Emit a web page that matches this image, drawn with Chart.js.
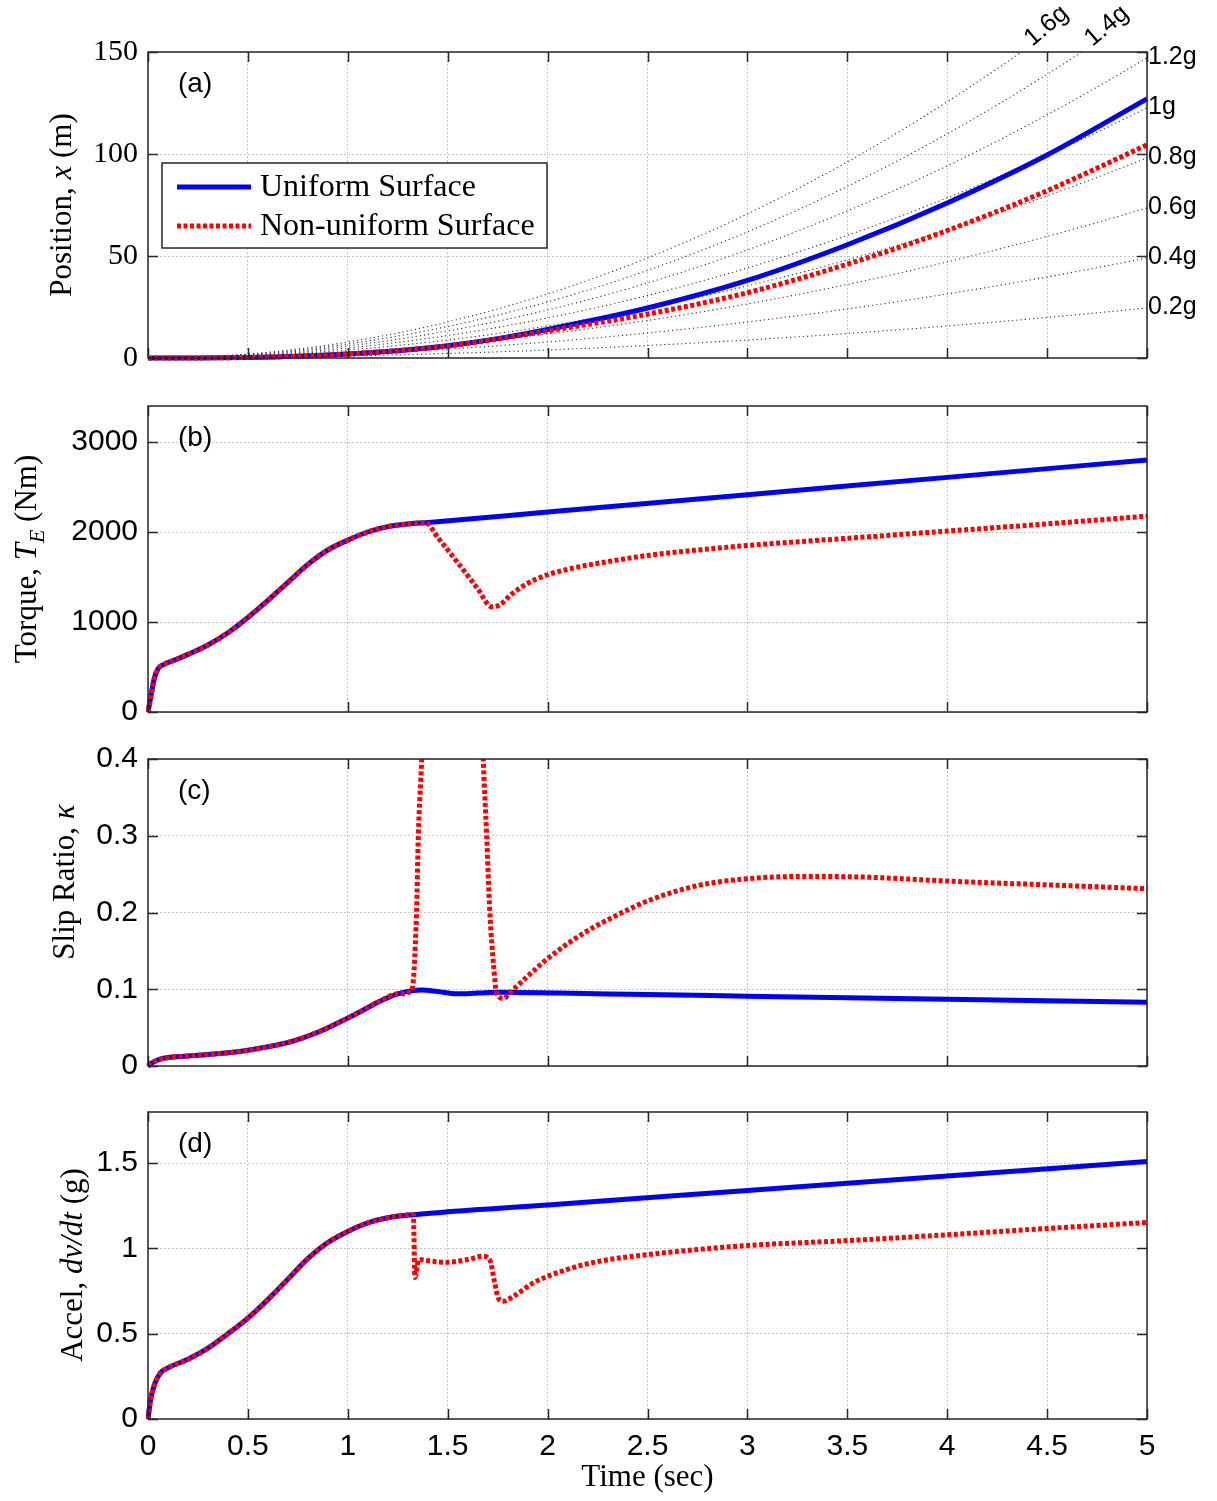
<!DOCTYPE html>
<html>
<head>
<meta charset="utf-8">
<script src="https://cdn.jsdelivr.net/npm/chart.js@4.4.1/dist/chart.umd.min.js"></script>
<style>
  body { margin: 0; background: #fff; }
  #wrap { position: relative; width: 1217px; height: 1501px; }
  #wrap canvas { position: absolute; left: 0; top: 0; }
</style>
</head>
<body>
<div id="wrap">
  <canvas id="posChart" width="1217" height="1501"></canvas>
  <canvas id="torqueChart" width="1217" height="1501"></canvas>
  <canvas id="slipChart" width="1217" height="1501"></canvas>
  <canvas id="accelChart" width="1217" height="1501"></canvas>
</div>
<script>
const SERIF = '"Liberation Serif", "Times New Roman", serif';
const SANS = '"Liberation Sans", Arial, sans-serif';
const G = 9.81;

// (a) position, m
const posTime = [0, 0.25, 0.5, 0.75, 1.0, 1.25, 1.5, 1.75, 2.0, 2.5, 3.0, 3.5, 4.0, 4.5, 5.0];
const posUniform = [0, 0.05, 0.3, 0.9, 2.0, 3.6, 6.0, 9.5, 14.0, 24.5, 38.0, 55.5, 76.0, 99.5, 127.0];
const posNonUniform = [0, 0.05, 0.3, 0.9, 2.0, 3.6, 5.9, 9.3, 13.3, 21.5, 32.0, 46.0, 62.5, 82.0, 104.5];
// constant-acceleration reference curves, in g
const gLevels = [0.2, 0.4, 0.6, 0.8, 1.0, 1.2, 1.4, 1.6];
const gLabels = ['0.2g', '0.4g', '0.6g', '0.8g', '1g', '1.2g', '1.4g', '1.6g'];

// (b) engine torque, Nm
const torqueTimeU = [0, 0.015, 0.03, 0.05, 0.08, 0.12, 0.2, 0.3, 0.4, 0.5, 0.6, 0.7, 0.8, 0.9, 1.0, 1.1, 1.2, 1.3, 1.39, 2, 3, 4, 5];
const torqueUniform = [0, 180, 360, 480, 530, 565, 640, 745, 880, 1050, 1240, 1440, 1640, 1800, 1910, 2000, 2060, 2090, 2104, 2222, 2415, 2607, 2800];
const torqueTimeN = [0, 0.015, 0.03, 0.05, 0.08, 0.12, 0.2, 0.3, 0.4, 0.5, 0.6, 0.7, 0.8, 0.9, 1.0, 1.1, 1.2, 1.3, 1.39, 1.45, 1.55, 1.65, 1.72, 1.76, 1.82, 1.9, 2.0, 2.15, 2.3, 2.5, 2.75, 3, 3.5, 4, 4.5, 5];
const torqueNonUniform = [0, 180, 360, 480, 530, 565, 640, 745, 880, 1050, 1240, 1440, 1640, 1800, 1910, 2000, 2060, 2090, 2104, 1940, 1660, 1370, 1170, 1190, 1310, 1430, 1525, 1610, 1670, 1740, 1800, 1850, 1930, 2010, 2090, 2175];

// (c) slip ratio
const slipTimeU = [0, 0.02, 0.05, 0.1, 0.2, 0.3, 0.46, 0.6, 0.72, 0.85, 0.95, 1.05, 1.15, 1.25, 1.32, 1.37, 1.45, 1.545, 1.65, 1.76, 2.06, 2.5, 3, 3.5, 4, 4.5, 5];
const slipUniform = [0, 0.004, 0.008, 0.011, 0.013, 0.015, 0.019, 0.025, 0.032, 0.044, 0.056, 0.069, 0.083, 0.094, 0.098, 0.099, 0.097, 0.094, 0.095, 0.096, 0.095, 0.093, 0.091, 0.089, 0.087, 0.085, 0.083];
const slipTimeN = [0, 0.02, 0.05, 0.1, 0.2, 0.3, 0.46, 0.6, 0.72, 0.85, 0.95, 1.05, 1.15, 1.25, 1.32, 1.344, 1.353, 1.37, 1.39, 1.66, 1.678, 1.695, 1.711, 1.73, 1.745, 1.78, 1.81, 1.9, 2.01, 2.18, 2.35, 2.51, 2.75, 3.0, 3.3, 3.6, 4.0, 4.5, 5.0];
const slipNonUniform = [0, 0.004, 0.008, 0.011, 0.013, 0.015, 0.019, 0.025, 0.032, 0.044, 0.056, 0.069, 0.083, 0.094, 0.098, 0.2, 0.3, 0.4, 0.55, 0.55, 0.4, 0.3, 0.2, 0.13, 0.095, 0.088, 0.095, 0.117, 0.142, 0.173, 0.197, 0.216, 0.235, 0.244, 0.247, 0.246, 0.241, 0.236, 0.231];

// (d) longitudinal acceleration, g
const accTimeU = [0, 0.013, 0.035, 0.062, 0.1, 0.2, 0.3, 0.4, 0.5, 0.6, 0.7, 0.8, 0.9, 1.0, 1.1, 1.2, 1.33, 2, 3, 4, 5];
const accUniform = [0, 0.114, 0.21, 0.27, 0.3, 0.35, 0.415, 0.5, 0.592, 0.7, 0.82, 0.94, 1.035, 1.1, 1.15, 1.18, 1.198, 1.255, 1.34, 1.425, 1.51];
const accTimeN = [0, 0.013, 0.035, 0.062, 0.1, 0.2, 0.3, 0.4, 0.5, 0.6, 0.7, 0.8, 0.9, 1.0, 1.1, 1.2, 1.328, 1.336, 1.345, 1.354, 1.42, 1.494, 1.6, 1.677, 1.71, 1.735, 1.753, 1.778, 1.83, 1.929, 2.095, 2.26, 2.5, 3, 3.5, 4, 4.5, 5];
const accNonUniform = [0, 0.114, 0.21, 0.27, 0.3, 0.35, 0.415, 0.5, 0.592, 0.7, 0.82, 0.94, 1.035, 1.1, 1.15, 1.18, 1.198, 0.83, 0.88, 0.935, 0.925, 0.919, 0.935, 0.954, 0.935, 0.8, 0.71, 0.69, 0.72, 0.798, 0.876, 0.925, 0.964, 1.017, 1.046, 1.08, 1.117, 1.152];

// axis ticks
const xTicksFine = [0, 0.5, 1, 1.5, 2, 2.5, 3, 3.5, 4, 4.5, 5];
const xTicksCoarse = [0, 1, 2, 3, 4, 5];
const posTicks = [0, 50, 100, 150];
const torqueTicks = [0, 1000, 2000, 3000];
const slipTicks = [0, 0.1, 0.2, 0.3, 0.4];
const accTicks = [0, 0.5, 1, 1.5];

const toPoints = (xs, ys) => xs.map((x, i) => ({ x: x, y: ys[i] }));

const CLIP = { left: 2, top: 0, right: 2, bottom: 3 };

function uniformSet(xs, ys) {
  return {
    label: 'Uniform Surface', data: toPoints(xs, ys),
    borderColor: '#0000ff', borderWidth: 5,
    cubicInterpolationMode: 'monotone', clip: CLIP, order: 1
  };
}
function nonUniformSet(xs, ys) {
  return {
    label: 'Non-uniform Surface', data: toPoints(xs, ys),
    borderColor: '#ff0000', borderWidth: 5, borderDash: [4, 2.5],
    cubicInterpolationMode: 'monotone', clip: CLIP, order: 0
  };
}

// x = g*t^2/2 for each labelled acceleration level
const guideTime = [];
for (let i = 0; i <= 100; i++) guideTime.push(i * 0.05);
const guideSets = gLevels.map(g => ({
  label: g + 'g', data: guideTime.map(t => ({ x: t, y: 0.5 * g * G * t * t })),
  borderColor: '#333', borderWidth: 1.1, borderDash: [1.2, 3],
  tension: 0, clip: 0, order: 2
}));

function drawRotated(ctx, cx, cy, parts) {
  ctx.save();
  ctx.translate(cx, cy);
  ctx.rotate(-Math.PI / 2);
  ctx.textBaseline = 'middle';
  ctx.fillStyle = '#000';
  let w = 0;
  parts.forEach(p => { ctx.font = p.font; p.w = ctx.measureText(p.text).width; w += p.w; });
  let x = -w / 2;
  parts.forEach(p => { ctx.font = p.font; ctx.fillText(p.text, x, p.dy || 0); x += p.w; });
  ctx.restore();
}

// box and inward tick marks on all four sides
const frame = {
  id: 'frame',
  afterDraw(chart) {
    const { ctx, chartArea: a, scales } = chart;
    ctx.save();
    ctx.strokeStyle = '#262626';
    ctx.lineWidth = 1.5;
    ctx.beginPath();
    scales.x.ticks.forEach(t => {
      const px = Math.round(scales.x.getPixelForValue(t.value)) + 0.5;
      ctx.moveTo(px, a.bottom); ctx.lineTo(px, a.bottom - 10);
      ctx.moveTo(px, a.top); ctx.lineTo(px, a.top + 10);
    });
    scales.y.ticks.forEach(t => {
      const py = Math.round(scales.y.getPixelForValue(t.value)) + 0.5;
      ctx.moveTo(a.left, py); ctx.lineTo(a.left + 10, py);
      ctx.moveTo(a.right, py); ctx.lineTo(a.right - 10, py);
    });
    ctx.stroke();
    ctx.strokeRect(a.left, a.top, a.right - a.left, a.bottom - a.top);
    ctx.restore();
  }
};

function makePanel(id, cfg) {
  const deco = {
    id: 'deco',
    afterDraw(chart) {
      const ctx = chart.ctx, a = chart.chartArea;
      ctx.save();
      ctx.fillStyle = '#000';
      ctx.font = '28px ' + SANS;
      ctx.textBaseline = 'middle';
      ctx.textAlign = 'left';
      ctx.fillText(cfg.tag, a.left + 30, a.top + 32);
      ctx.restore();
      drawRotated(ctx, cfg.titleX, cfg.titleY, cfg.title);
      if (cfg.extra) cfg.extra(chart);
    }
  };
  return new Chart(document.getElementById(id), {
    type: 'line',
    data: { datasets: cfg.datasets },
    options: {
      responsive: false,
      animation: false,
      devicePixelRatio: 1,
      layout: { padding: { left: 0, right: 70, top: cfg.top, bottom: 1501 - cfg.bottom - cfg.xh } },
      elements: { point: { radius: 0 } },
      plugins: { legend: { display: false }, tooltip: { enabled: false } },
      scales: {
        x: {
          type: 'linear', min: 0, max: 5,
          afterBuildTicks: s => { s.ticks = cfg.xTicks.map(v => ({ value: v })); },
          afterFit: s => { s.height = cfg.xh; },
          grid: { color: '#c4c4c4', lineWidth: 1, drawTicks: false },
          border: { display: false, dash: [2, 2] },
          ticks: {
            display: cfg.xh > 0, color: '#000', padding: 10, maxRotation: 0,
            font: { family: SANS, size: 30 },
            callback: v => String(v)
          }
        },
        y: {
          type: 'linear', min: cfg.yMin, max: cfg.yMax,
          afterBuildTicks: s => { s.ticks = cfg.yTicks.map(v => ({ value: v })); },
          afterFit: s => { s.width = 148; },
          grid: { color: '#c4c4c4', lineWidth: 1, drawTicks: false },
          border: { display: false, dash: [2, 2] },
          ticks: {
            color: '#000', padding: 10,
            font: { family: cfg.tickFamily, size: cfg.tickSize },
            callback: v => String(v)
          }
        }
      }
    },
    plugins: [frame, deco]
  });
}

// legend and g-level labels for the position panel
function positionExtras(chart) {
  const ctx = chart.ctx, a = chart.chartArea, sx = chart.scales.x, sy = chart.scales.y;
  ctx.save();
  // legend box
  ctx.fillStyle = '#fff';
  ctx.fillRect(162, 163, 385, 85);
  ctx.strokeStyle = '#262626';
  ctx.lineWidth = 1.5;
  ctx.strokeRect(162, 163, 385, 85);
  const sets = chart.data.datasets;
  [sets[1], sets[0]].forEach((ds, i) => {
    const y = 187 + i * 39;
    ctx.beginPath();
    ctx.strokeStyle = ds.borderColor;
    ctx.lineWidth = ds.borderWidth;
    ctx.setLineDash(ds.borderDash || []);
    ctx.moveTo(177, y); ctx.lineTo(251, y);
    ctx.stroke();
    ctx.setLineDash([]);
    ctx.fillStyle = '#000';
    ctx.font = '32px ' + SERIF;
    ctx.textBaseline = 'middle';
    ctx.textAlign = 'left';
    ctx.fillText(ds.label, 260, y + 1);
  });
  // acceleration level labels
  ctx.fillStyle = '#000';
  ctx.font = '25px ' + SANS;
  ctx.textBaseline = 'middle';
  gLevels.forEach((g, i) => {
    const end = 0.5 * g * G * 25;
    if (end <= sy.max) {
      ctx.textAlign = 'left';
      ctx.fillText(gLabels[i], a.right + 1, sy.getPixelForValue(end) - 1);
    } else {
      const tCross = Math.sqrt(2 * sy.max / (g * G));
      const px = sx.getPixelForValue(tCross);
      ctx.save();
      ctx.translate(px + 25, a.top - 26);
      ctx.rotate(-40 * Math.PI / 180);
      ctx.textAlign = 'center';
      ctx.fillText(gLabels[i], 0, 0);
      ctx.restore();
    }
  });
  ctx.restore();
}

makePanel('posChart', {
  top: 52, bottom: 358, xh: 0, xTicks: xTicksFine,
  yMin: 0, yMax: 150, yTicks: posTicks, tickFamily: SERIF, tickSize: 30,
  tag: '(a)', titleX: 63, titleY: 205,
  title: [
    { text: 'Position, ', font: '31px ' + SERIF },
    { text: 'x', font: 'italic 31px ' + SERIF },
    { text: ' (m)', font: '31px ' + SERIF }
  ],
  datasets: [nonUniformSet(posTime, posNonUniform), uniformSet(posTime, posUniform)].concat(guideSets),
  extra: positionExtras
});

makePanel('torqueChart', {
  top: 406, bottom: 712, xh: 0, xTicks: xTicksCoarse,
  yMin: 0, yMax: 3400, yTicks: torqueTicks, tickFamily: SANS, tickSize: 30,
  tag: '(b)', titleX: 28, titleY: 559,
  title: [
    { text: 'Torque, ', font: '31px ' + SERIF },
    { text: 'T', font: 'italic 31px ' + SERIF },
    { text: 'E', font: 'italic 22px ' + SERIF, dy: 10 },
    { text: ' (Nm)', font: '31px ' + SERIF }
  ],
  datasets: [nonUniformSet(torqueTimeN, torqueNonUniform), uniformSet(torqueTimeU, torqueUniform)]
});

makePanel('slipChart', {
  top: 759, bottom: 1066, xh: 0, xTicks: xTicksCoarse,
  yMin: 0, yMax: 0.4, yTicks: slipTicks, tickFamily: SANS, tickSize: 30,
  tag: '(c)', titleX: 66, titleY: 882,
  title: [
    { text: 'Slip Ratio, ', font: '31px ' + SERIF },
    { text: 'κ', font: 'italic 31px ' + SERIF }
  ],
  datasets: [nonUniformSet(slipTimeN, slipNonUniform), uniformSet(slipTimeU, slipUniform)]
});

makePanel('accelChart', {
  top: 1112, bottom: 1419, xh: 82, xTicks: xTicksFine,
  yMin: 0, yMax: 1.8, yTicks: accTicks, tickFamily: SANS, tickSize: 30,
  tag: '(d)', titleX: 74, titleY: 1265,
  title: [
    { text: 'Accel, ', font: '31px ' + SERIF },
    { text: 'dv/dt', font: 'italic 31px ' + SERIF },
    { text: ' (g)', font: '31px ' + SERIF }
  ],
  datasets: [nonUniformSet(accTimeN, accNonUniform), uniformSet(accTimeU, accUniform)],
  extra: chart => {
    const ctx = chart.ctx, a = chart.chartArea;
    ctx.save();
    ctx.fillStyle = '#000';
    ctx.font = '31px ' + SERIF;
    ctx.textAlign = 'center';
    ctx.textBaseline = 'middle';
    ctx.fillText('Time (sec)', (a.left + a.right) / 2, 1478);
    ctx.restore();
  }
});
</script>
</body>
</html>
